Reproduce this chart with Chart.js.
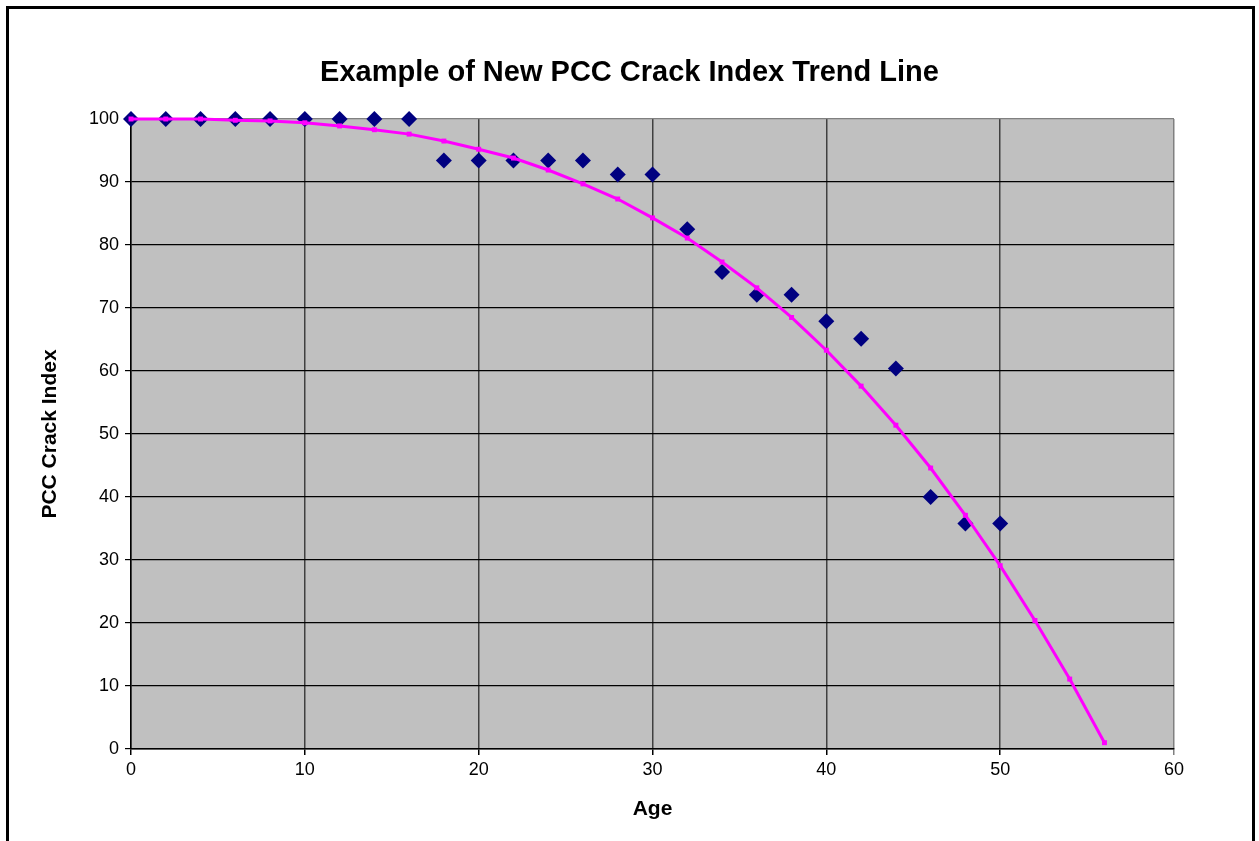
<!DOCTYPE html>
<html>
<head>
<meta charset="utf-8">
<script src="https://cdn.jsdelivr.net/npm/chart.js@4/dist/chart.umd.min.js"></script>
<style>
  html, body { margin: 0; padding: 0; background: #fff; }
  #wrap { position: relative; width: 1259px; height: 841px; }
</style>
</head>
<body>
<div id="wrap"><canvas id="crackChart"></canvas></div>
<script>
// observed crack index by age
const ages = [0, 2, 4, 6, 8, 10, 12, 14, 16, 18, 20, 22, 24, 26, 28, 30, 32, 34, 36, 38, 40, 42, 44, 46, 48, 50];
const crackIndex = [100, 100, 100, 100, 100, 100, 100, 100, 100, 93.4, 93.4, 93.4, 93.4, 93.4, 91.2, 91.2, 82.5, 75.7, 72.1, 72.1, 67.9, 65.1, 60.4, 40.0, 35.8, 35.8];

// trend line points
const trendAges = [0, 2, 4, 6, 8, 10, 12, 14, 16, 18, 20, 22, 24, 26, 28, 30, 32, 34, 36, 38, 40, 42, 44, 46, 48, 50, 52, 54, 56];
const trendIndex = [100, 100, 100, 99.8, 99.7, 99.4, 98.9, 98.3, 97.6, 96.5, 95.2, 93.8, 91.9, 89.7, 87.3, 84.3, 81.1, 77.3, 73.2, 68.5, 63.3, 57.6, 51.4, 44.6, 37.1, 29.1, 20.4, 11.1, 1.0];

const xTicks = [0, 10, 20, 30, 40, 50, 60];
const yTicks = [0, 10, 20, 30, 40, 50, 60, 70, 80, 90, 100];

const FONT = "'Liberation Sans', Arial, sans-serif";

// gray plot area + outer frame
const frame = {
  id: 'frame',
  beforeDraw(chart) {
    const { ctx, chartArea: a } = chart;
    ctx.save();
    ctx.fillStyle = '#c0c0c0';
    ctx.fillRect(a.left, a.top, a.right - a.left, a.bottom - a.top);
    ctx.strokeStyle = '#000';
    ctx.lineWidth = 3;
    ctx.strokeRect(7.5, 7.5, 1246, 900);
    ctx.restore();
  }
};

new Chart(document.getElementById('crackChart'), {
  type: 'scatter',
  data: {
    datasets: [
      {
        label: 'Trend',
        data: trendAges.map((a, i) => ({ x: a, y: trendIndex[i] })),
        showLine: true,
        borderColor: '#ff00ff',
        borderWidth: 3,
        backgroundColor: '#ff00ff',
        pointStyle: 'rect',
        pointRadius: 3.5,
        pointBorderWidth: 0,
        tension: 0,
        clip: 12
      },
      {
        label: 'PCC Crack Index',
        data: ages.map((a, i) => ({ x: a, y: crackIndex[i] })),
        backgroundColor: '#000080',
        borderColor: '#000080',
        pointStyle: 'rectRot',
        pointRadius: 8,
        pointBorderWidth: 0,
        clip: 12
      }
    ]
  },
  options: {
    responsive: true,
    maintainAspectRatio: false,
    animation: false,
    layout: { padding: 0 },
    plugins: {
      legend: { display: false },
      tooltip: { enabled: false },
      title: {
        display: true,
        text: 'Example of New PCC Crack Index Trend Line',
        color: '#000',
        font: { family: FONT, size: 29, weight: 'bold', lineHeight: 1.2 },
        padding: { top: 55.6, bottom: 28.6 }
      }
    },
    scales: {
      x: {
        type: 'linear',
        min: 0,
        max: 60,
        afterBuildTicks: s => { s.ticks = xTicks.map(v => ({ value: v })); },
        afterFit: s => { s.height = 92; },
        ticks: { color: '#000', font: { family: FONT, size: 18 }, padding: 4 },
        grid: {
          color: c => (c.tick && c.tick.value === 60 ? '#808080' : '#404040'),
          tickColor: c => (c.tick && c.tick.value === 60 ? '#808080' : '#000'),
          lineWidth: 1.5,
          tickLength: 6
        },
        border: { color: '#000', width: 1.5 },
        title: {
          display: true,
          text: 'Age',
          color: '#000',
          font: { family: FONT, size: 21, weight: 'bold', lineHeight: 1.2 },
          padding: { top: 0, bottom: 19.4 }
        }
      },
      y: {
        min: 0,
        max: 100,
        afterBuildTicks: s => { s.ticks = yTicks.map(v => ({ value: v })); },
        afterFit: s => { s.width = 131; },
        ticks: { color: '#000', font: { family: FONT, size: 18 }, padding: 6 },
        grid: {
          color: c => (c.tick && c.tick.value === 100 ? '#808080' : '#000'),
          tickColor: '#000',
          lineWidth: 1.2,
          tickLength: 6
        },
        border: { color: '#000', width: 1.5 },
        title: {
          display: true,
          text: 'PCC Crack Index',
          color: '#000',
          font: { family: FONT, size: 21, weight: 'bold', lineHeight: 1.2 },
          padding: { top: 37.4, bottom: 0 }
        }
      },
      // empty right-hand spacer so the title centres on the whole page
      spacer: {
        type: 'linear',
        position: 'right',
        min: 0,
        max: 1,
        afterFit: s => { s.width = 85; },
        ticks: { display: false },
        grid: { display: false, drawTicks: false },
        border: { display: false }
      }
    }
  },
  plugins: [frame]
});
</script>
</body>
</html>
